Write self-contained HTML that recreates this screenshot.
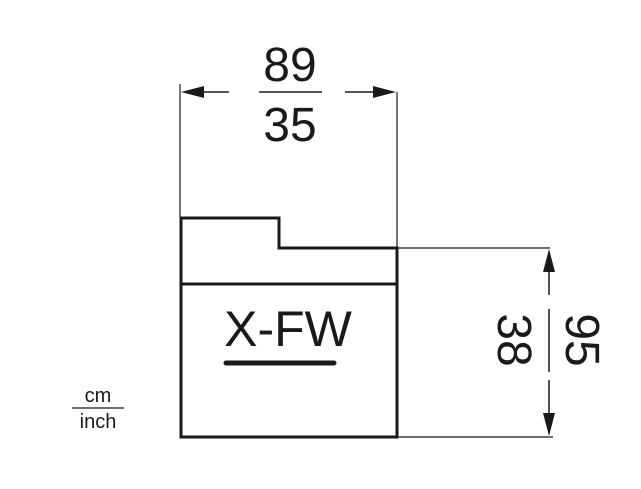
<!DOCTYPE html>
<html><head><style>html,body{margin:0;padding:0;background:#fff}</style></head><body>
<svg width="641" height="484" xmlns="http://www.w3.org/2000/svg" font-family="Liberation Sans, Arial, sans-serif">
<rect width="641" height="484" fill="#fff"/>
<g stroke="#1a1a1a" fill="none">
<path d="M181,437 V218 H279 V248 H397 V437 Z" stroke-width="3"/>
<line x1="181" y1="284" x2="397" y2="284" stroke-width="3"/>
<line x1="180" y1="84" x2="180" y2="218" stroke-width="1.2"/>
<line x1="397" y1="92" x2="397" y2="248" stroke-width="1.2"/>
<line x1="190" y1="92" x2="229" y2="92" stroke-width="1.5"/>
<line x1="345" y1="92" x2="386" y2="92" stroke-width="1.5"/>
<line x1="259" y1="92" x2="322" y2="92" stroke-width="1.5"/>
<line x1="397" y1="248" x2="550" y2="248" stroke-width="1.2"/>
<line x1="397" y1="437" x2="553" y2="437" stroke-width="1.2"/>
<line x1="549" y1="258" x2="549" y2="295" stroke-width="1.5"/>
<line x1="549" y1="380" x2="549" y2="426" stroke-width="1.5"/>
<line x1="549" y1="309" x2="549" y2="372" stroke-width="1.5"/>
<line x1="226" y1="363" x2="334" y2="363" stroke-width="5" stroke-linecap="round"/>
<line x1="72" y1="408" x2="124" y2="408" stroke-width="1.2"/>
</g>
<g fill="#1a1a1a">
<polygon points="181,92 204,86 204,98"/>
<polygon points="396,92 373,86 373,98"/>
<polygon points="549,249 543,272 555,272"/>
<polygon points="549,436 543,413 555,413"/>
<text x="290" y="81" font-size="48" text-anchor="middle">89</text>
<text x="290" y="141" font-size="48" text-anchor="middle">35</text>
<text x="288" y="346" font-size="50" text-anchor="middle">X-FW</text>
<text transform="translate(566,340) rotate(90)" font-size="48" text-anchor="middle">95</text>
<text transform="translate(498,340) rotate(90)" font-size="48" text-anchor="middle">38</text>
<text x="98" y="402" font-size="20" text-anchor="middle">cm</text>
<text x="98" y="428" font-size="20" text-anchor="middle">inch</text>
</g>
</svg>
</body></html>
